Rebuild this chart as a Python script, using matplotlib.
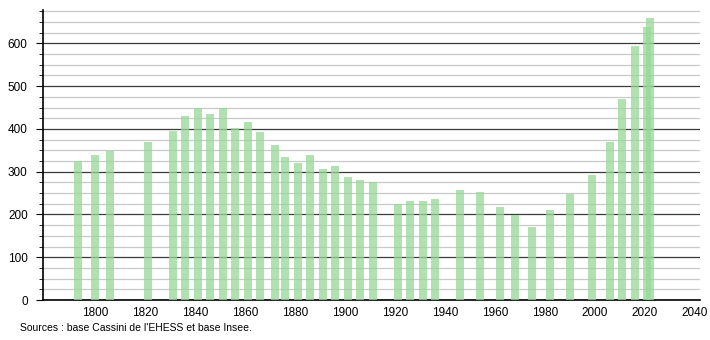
import matplotlib
matplotlib.use("Agg")
import matplotlib.pyplot as plt
from matplotlib.ticker import MultipleLocator

plt.rcParams['font.family'] = ['Liberation Sans', 'DejaVu Sans']

years = [1793, 1800, 1806, 1821, 1831, 1836, 1841, 1846, 1851, 1856,
         1861, 1866, 1872, 1876, 1881, 1886, 1891, 1896, 1901, 1906,
         1911, 1921, 1926, 1931, 1936, 1946, 1954, 1962, 1968, 1975,
         1982, 1990, 1999, 2006, 2011, 2016, 2021, 2022]
population = [324, 339, 349, 369, 395, 430, 450, 435, 450, 402,
              416, 393, 362, 334, 320, 339, 306, 313, 288, 280,
              275, 224, 231, 231, 236, 257, 252, 217, 199, 171,
              210, 248, 292, 369, 470, 594, 639, 659]
source = "Sources : base Cassini de l'EHESS et base Insee."

fig = plt.figure(figsize=(7.1, 3.4), dpi=100)
ax = fig.add_axes([0.0606, 0.1176, 0.925, 0.853])

ax.bar(years, population, width=3.2, color='#97d897', alpha=0.75, zorder=3)

ax.set_xlim(1779, 2042)
ax.set_ylim(0, 678)
ax.yaxis.set_major_locator(MultipleLocator(100))
ax.yaxis.set_minor_locator(MultipleLocator(25))
ax.set_xticks(range(1800, 2041, 20))

ax.grid(True, which='minor', axis='y', color='#c8c8c8', linewidth=0.9, zorder=0)
ax.grid(True, which='major', axis='y', color='#3a3a3a', linewidth=0.9, zorder=1)

for s in ['top', 'right']:
    ax.spines[s].set_visible(False)
ax.spines['left'].set_linewidth(1.2)
ax.spines['bottom'].set_linewidth(1.2)

ax.tick_params(axis='x', length=0, labelsize=8.5, pad=5)
ax.tick_params(axis='y', which='major', length=5, labelsize=8.5, pad=6)
ax.tick_params(axis='y', which='minor', length=3)

fig.text(0.028, 0.035, source, fontsize=7.5, ha='left', va='center')

fig.savefig('out.png', dpi=100)
